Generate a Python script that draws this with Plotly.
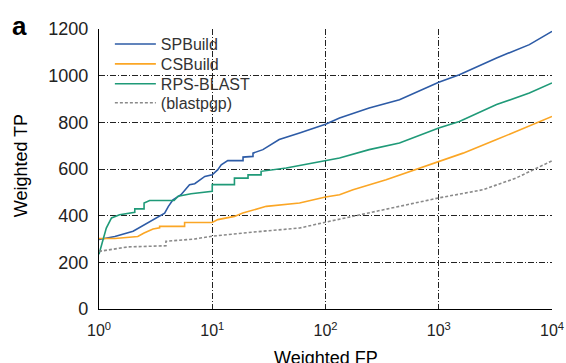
import plotly.graph_objects as go

# ---- data ----
sp_x = [1, 1.38, 2.0, 2.5, 3.8, 4.1, 4.5, 5.3, 6.3, 7.0, 8.6, 10, 11.2, 12, 13.7, 18.7, 18.7,
        22.9, 22.9, 28, 39, 59, 100, 133, 243, 450, 1000, 1520, 3240, 6310, 10000]
sp_y = [298, 311, 333, 360, 411, 440, 468, 490, 533, 537, 568, 575, 597, 618, 636, 636, 651,
        654, 668, 683, 726, 754, 792, 819, 861, 897, 972, 1004, 1076, 1133, 1190]

cs_x = [1, 1.38, 2.2, 2.5, 3.0, 3.43, 3.43, 5.7, 5.7, 10, 11.2, 15.7, 18.6, 30, 59, 100, 133,
        175, 343, 1000, 1640, 3240, 6310, 10000]
cs_y = [302, 302, 311, 326, 343, 348, 354, 354, 371, 371, 383, 397, 411, 440, 454, 480, 490,
        511, 554, 633, 668, 726, 783, 825]

rps_x = [1, 1.16, 1.29, 1.52, 2.07, 2.07, 2.5, 2.5, 2.8, 4.6, 5.0, 6.5, 10, 10, 15.7, 15.7,
         20.7, 20.7, 27, 27, 45, 100, 133, 243, 450, 1000, 1520, 3240, 6310, 10000]
rps_y = [235, 347, 390, 404, 414, 429, 429, 454, 465, 465, 483, 494, 504, 533, 533, 561,
         561, 575, 575, 590, 604, 638, 647, 683, 711, 776, 804, 876, 926, 969]

bp_x = [1, 1.8, 3.9, 3.9, 7, 10, 21, 59, 100, 230, 450, 1000, 2450, 4800, 10000]
bp_y = [247, 266, 271, 290, 300, 312, 328, 347, 372, 411, 440, 476, 511, 561, 635]

x_tickvals = [1, 10, 100, 1000, 10000]
x_ticktext = ["10<sup>0</sup>", "10<sup>1</sup>", "10<sup>2</sup>", "10<sup>3</sup>", "10<sup>4</sup>"]
y_tickvals = [0, 200, 400, 600, 800, 1000, 1200]

FONT = "Liberation Sans, Arial, Helvetica, sans-serif"

fig = go.Figure()
fig.add_trace(go.Scatter(x=sp_x, y=sp_y, mode="lines", name="SPBuild", legend="legend",
                         line=dict(color="#2d5ba6", width=1.6)))
fig.add_trace(go.Scatter(x=cs_x, y=cs_y, mode="lines", name="CSBuild", legend="legend2",
                         line=dict(color="#fba625", width=1.6)))
fig.add_trace(go.Scatter(x=rps_x, y=rps_y, mode="lines", name="RPS-BLAST", legend="legend3",
                         line=dict(color="#1f9a78", width=1.6)))
fig.add_trace(go.Scatter(x=bp_x, y=bp_y, mode="lines", name="(blastpgp)", legend="legend4",
                         line=dict(color="#8a8a8a", width=1.6, dash="3px,2px")))

grid = dict(showgrid=True, gridcolor="#222222", gridwidth=1, griddash="6px,2px,1px,2px")

def leg(ypos):
    return dict(x=0.024, y=ypos, xanchor="left", yanchor="middle",
                bgcolor="rgba(0,0,0,0)", font=dict(size=16, family=FONT, color="#333333"),
                itemwidth=41)

fig.update_layout(
    width=566, height=363,
    margin=dict(l=99, r=14, t=29, b=54),
    paper_bgcolor="white", plot_bgcolor="white",
    font=dict(family=FONT, color="#222222"),
    showlegend=True,
    legend=leg(0.946), legend2=leg(0.875), legend3=leg(0.804), legend4=leg(0.736),
    xaxis=dict(type="log", range=[0, 4], tickvals=x_tickvals, ticktext=x_ticktext,
               tickfont=dict(size=16, family=FONT, color="#222222"), automargin=False,
               showline=True, linecolor="black", linewidth=1.2, ticks="",
               ticklabelstandoff=7, ticklabeloverflow="allow", zeroline=False, **grid),
    yaxis=dict(range=[0, 1200], tickvals=y_tickvals, automargin=False,
               tickfont=dict(size=18, family=FONT, color="#222222"),
               showline=True, linecolor="black", linewidth=1.2, ticks="",
               ticklabelstandoff=6, zeroline=False, **grid),
    annotations=[
        dict(text="<b>a</b>", xref="paper", yref="paper", x=-0.196, y=1.012,
             xanchor="left", yanchor="middle", showarrow=False,
             font=dict(size=26, family=FONT, color="black")),
        dict(text="Weighted TP", xref="paper", yref="paper", x=-0.172, y=0.51,
             xanchor="center", yanchor="middle", textangle=-90, showarrow=False,
             font=dict(size=18, family=FONT, color="black")),
        dict(text="Weighted FP", xref="paper", yref="paper", x=0.5, y=-0.176,
             xanchor="center", yanchor="middle", showarrow=False,
             font=dict(size=18, family=FONT, color="black")),
    ],
)

fig.write_html("out.html", config={"displayModeBar": False},
               post_script="document.body.style.margin='0';document.body.style.overflow='hidden';")
